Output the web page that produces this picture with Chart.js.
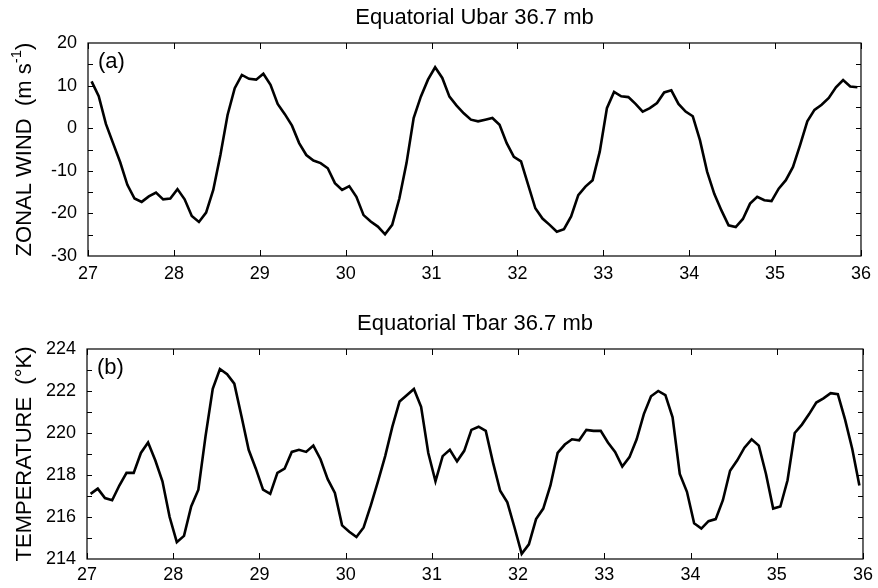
<!DOCTYPE html>
<html>
<head>
<meta charset="utf-8">
<script src="https://cdn.jsdelivr.net/npm/chart.js@4.4.0/dist/chart.umd.min.js"></script>
<style>
  html, body { margin: 0; padding: 0; background: #fff; }
  .panel { position: absolute; left: 0; width: 878px; height: 294px; }
</style>
</head>
<body>
<div class="panel" style="top:0"><canvas id="windChart" width="878" height="294"></canvas></div>
<div class="panel" style="top:294px"><canvas id="tempChart" width="878" height="294"></canvas></div>
<script>
// monthly means, first point = Jan of year 27
const startYear = 27;
const yearTicks = [27, 28, 29, 30, 31, 32, 33, 34, 35, 36];
const windTicks = [-30, -20, -10, 0, 10, 20];
const tempTicks = [214, 216, 218, 220, 222, 224];

const zonalWind = [
  11, 7.5, 1, -3.5, -8, -13.3, -16.5, -17.3, -16, -15.1, -16.7, -16.5,
  -14.3, -16.7, -20.6, -22, -19.8, -14.5, -6.3, 3.1, 9.4, 12.5, 11.6, 11.4,
  12.8, 10.2, 5.7, 3.3, 0.6, -3.5, -6.3, -7.6, -8.2, -9.4, -12.9, -14.5,
  -13.6, -16.1, -20.4, -21.9, -23.1, -24.9, -22.7, -16.5, -8.2, 2.4, 7.4, 11.4,
  14.3, 11.8, 7.4, 5.3, 3.5, 2.0, 1.6, 2.0, 2.4, 0.8, -3.5, -6.7,
  -7.8, -13.3, -18.8, -21.2, -22.7, -24.3, -23.7, -20.7, -15.7, -13.7, -12.2, -5.5,
  4.7, 8.5, 7.5, 7.3, 5.7, 3.9, 4.7, 5.9, 8.4, 8.9, 5.7, 3.9,
  2.8, -2.8, -10.2, -15.4, -19.3, -22.8, -23.2, -21.3, -17.7, -16.1, -16.9, -17.1,
  -14.2, -12.2, -9.1, -3.9, 1.6, 4.3, 5.5, 7.1, 9.6, 11.3, 9.8, 9.6
];

const temperature = [
  217.1, 217.35, 216.9, 216.8, 217.5, 218.1, 218.1, 219.05, 219.55, 218.7, 217.7, 216.0,
  214.8, 215.1, 216.5, 217.3, 219.85, 222.1, 223.05, 222.8, 222.35, 220.8, 219.2, 218.3,
  217.3, 217.1, 218.1, 218.3, 219.1, 219.2, 219.1, 219.4, 218.75, 217.8, 217.15, 215.6,
  215.3, 215.05, 215.5, 216.55, 217.7, 218.9, 220.3, 221.5, 221.8, 222.1, 221.25, 219.05,
  217.7, 218.9, 219.2, 218.65, 219.15, 220.15, 220.3, 220.1, 218.6, 217.25, 216.7, 215.5,
  214.25, 214.7, 215.9, 216.4, 217.5, 219.05, 219.45, 219.7, 219.65, 220.15, 220.1, 220.1,
  219.55, 219.1, 218.4, 218.85, 219.7, 220.9, 221.75, 222.0, 221.8, 220.75, 218.05, 217.2,
  215.7, 215.45, 215.8, 215.9, 216.8, 218.2, 218.7, 219.3, 219.7, 219.4, 218.05, 216.4,
  216.5, 217.75, 220.0, 220.4, 220.9, 221.45, 221.65, 221.9, 221.85, 220.65, 219.25, 217.5
];

const FONT = '"Liberation Sans", Arial, Helvetica, sans-serif';

// frame, inward ticks, title, panel letter, rotated y label
const framePlugin = {
  id: 'frame',
  afterDraw(chart, args, o) {
    const { ctx, chartArea: a, scales: { x, y } } = chart;
    ctx.save();
    ctx.strokeStyle = '#000';
    ctx.lineWidth = 1.2;
    ctx.strokeRect(a.left, a.top, a.right - a.left, a.bottom - a.top);

    ctx.beginPath();
    yearTicks.forEach((yr) => {
      const px = Math.round(x.getPixelForValue(yr)) + 0.5;
      ctx.moveTo(px, a.bottom); ctx.lineTo(px, a.bottom - 6);
      ctx.moveTo(px, a.top); ctx.lineTo(px, a.top + 6);
    });
    for (let v = o.yMin + o.minor; v < o.yMax; v += o.minor) {
      const py = Math.round(y.getPixelForValue(v)) + 0.5;
      ctx.moveTo(a.left, py); ctx.lineTo(a.left + 5, py);
      ctx.moveTo(a.right, py); ctx.lineTo(a.right - 5, py);
    }
    ctx.lineWidth = 1;
    ctx.stroke();

    ctx.fillStyle = '#000';
    ctx.font = '22px ' + FONT;
    ctx.textAlign = 'center';
    ctx.textBaseline = 'alphabetic';
    ctx.fillText(o.title, (a.left + a.right) / 2, o.titleY);

    ctx.textAlign = 'left';
    ctx.fillText(o.letter, a.left + 10, a.top + 25);

    // y axis label
    ctx.translate(25, (a.top + a.bottom) / 2);
    ctx.rotate(-Math.PI / 2);
    ctx.textBaseline = 'middle';
    const big = '22px ' + FONT, small = '15px ' + FONT;
    ctx.font = big;
    const w1 = ctx.measureText(o.yLabel[0]).width;
    const w3 = ctx.measureText(o.yLabel[2]).width;
    ctx.font = small;
    const w2 = ctx.measureText(o.yLabel[1]).width;
    let cx = -(w1 + w2 + w3) / 2;
    ctx.font = big;
    ctx.fillText(o.yLabel[0], cx, 0);
    cx += w1;
    ctx.font = small;
    ctx.fillText(o.yLabel[1], cx, -8);
    cx += w2;
    ctx.font = big;
    ctx.fillText(o.yLabel[2], cx, 0);
    ctx.restore();
  },
};

function makePanel(canvasId, values, p) {
  new Chart(document.getElementById(canvasId), {
    type: 'line',
    data: {
      datasets: [
        {
          data: values.map((v, i) => ({ x: startYear + (i + 0.5) / 12, y: v })),
          borderColor: '#000',
          borderWidth: 2.6,
          pointRadius: 0,
          tension: 0,
          fill: false,
        },
      ],
    },
    options: {
      responsive: false,
      animation: false,
      layout: { padding: { top: p.top, right: p.right, left: 0, bottom: 0 } },
      plugins: {
        legend: { display: false },
        tooltip: { enabled: false },
        frame: p.frame,
      },
      scales: {
        x: {
          type: 'linear',
          min: 27,
          max: 36,
          afterBuildTicks: (s) => { s.ticks = yearTicks.map((v) => ({ value: v })); },
          afterFit: (s) => { s.height = p.xHeight; },
          grid: { display: false, drawTicks: false },
          border: { display: false },
          ticks: { color: '#000', font: { size: 18, family: FONT }, padding: p.xPad, maxRotation: 0 },
        },
        y: {
          min: p.yMin,
          max: p.yMax,
          afterBuildTicks: (s) => { s.ticks = p.yTicks.map((v) => ({ value: v })); },
          afterFit: (s) => { s.width = p.left; },
          grid: { display: false, drawTicks: false },
          border: { display: false },
          ticks: { color: '#000', font: { size: 18, family: FONT }, padding: 11 },
        },
      },
    },
    plugins: [framePlugin],
  });
}

makePanel('windChart', zonalWind, {
  top: 43, right: 13, left: 88, xHeight: 38, xPad: 7,
  yMin: -30, yMax: 20, yTicks: windTicks,
  frame: {
    title: 'Equatorial Ubar 36.7 mb', titleY: 24, letter: '(a)',
    yMin: -30, yMax: 20, minor: 5,
    yLabel: ['ZONAL WIND  (m s', '-1', ')'],
  },
});

makePanel('tempChart', temperature, {
  top: 55, right: 12, left: 87, xHeight: 29, xPad: 5,
  yMin: 214, yMax: 224, yTicks: tempTicks,
  frame: {
    title: 'Equatorial Tbar 36.7 mb', titleY: 36, letter: '(b)',
    yMin: 214, yMax: 224, minor: 1,
    yLabel: ['TEMPERATURE  (\u00b0K)', '', ''],
  },
});
</script>
</body>
</html>
